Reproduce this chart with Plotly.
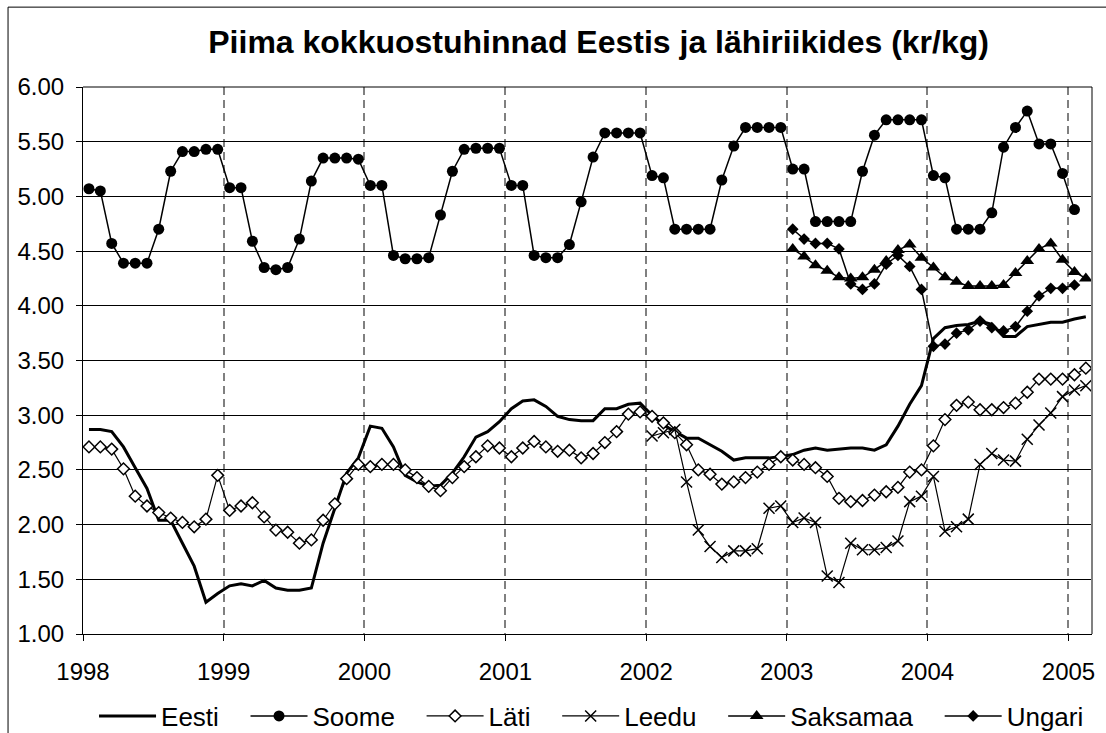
import pandas as pd
import plotly.graph_objects as go

# ---- data (kr/kg), monthly ----
month_starts = pd.date_range("1998-01-01", periods=87, freq="MS")
months = month_starts[:-1] + (month_starts[1:] - month_starts[:-1]) / 2  # Jan 1998 .. Feb 2005

eesti = [2.87, 2.87, 2.85, 2.71, 2.52, 2.33, 2.04, 2.04, 1.83, 1.62, 1.29, 1.37,
         1.44, 1.46, 1.44, 1.49, 1.42, 1.40, 1.40, 1.42, 1.83, 2.16, 2.47, 2.61,
         2.90, 2.88, 2.71, 2.45, 2.39, 2.35, 2.36, 2.47, 2.62, 2.80, 2.85, 2.94,
         3.06, 3.13, 3.14, 3.08, 2.99, 2.96, 2.95, 2.95, 3.06, 3.06, 3.10, 3.11,
         3.00, 2.91, 2.85, 2.79, 2.79, 2.73, 2.67, 2.59, 2.61, 2.61, 2.61, 2.62,
         2.64, 2.68, 2.70, 2.68, 2.69, 2.70, 2.70, 2.68, 2.73, 2.90, 3.10, 3.27,
         3.70, 3.80, 3.82, 3.83, 3.86, 3.83, 3.72, 3.72, 3.81, 3.83, 3.85, 3.85,
         3.88, 3.90]

soome = [5.07, 5.05, 4.57, 4.39, 4.39, 4.39, 4.70, 5.23, 5.41, 5.41, 5.43, 5.43,
         5.08, 5.08, 4.59, 4.35, 4.33, 4.35, 4.61, 5.14, 5.35, 5.35, 5.35, 5.34,
         5.10, 5.10, 4.46, 4.43, 4.43, 4.44, 4.83, 5.23, 5.43, 5.44, 5.44, 5.44,
         5.10, 5.10, 4.46, 4.44, 4.44, 4.56, 4.95, 5.36, 5.58, 5.58, 5.58, 5.58,
         5.19, 5.17, 4.70, 4.70, 4.70, 4.70, 5.15, 5.46, 5.63, 5.63, 5.63, 5.63,
         5.25, 5.25, 4.77, 4.77, 4.77, 4.77, 5.23, 5.56, 5.70, 5.70, 5.70, 5.70,
         5.19, 5.17, 4.70, 4.70, 4.70, 4.85, 5.45, 5.63, 5.78, 5.48, 5.48, 5.21,
         4.88]

lati = [2.71, 2.71, 2.69, 2.51, 2.26, 2.17, 2.11, 2.06, 2.02, 1.98, 2.05, 2.45,
        2.13, 2.17, 2.20, 2.07, 1.95, 1.93, 1.83, 1.86, 2.04, 2.19, 2.42, 2.55,
        2.53, 2.55, 2.55, 2.50, 2.43, 2.35, 2.31, 2.43, 2.53, 2.62, 2.72, 2.70,
        2.62, 2.70, 2.76, 2.71, 2.67, 2.68, 2.61, 2.65, 2.75, 2.85, 3.01, 3.03,
        2.99, 2.93, 2.84, 2.73, 2.50, 2.46, 2.37, 2.39, 2.43, 2.48, 2.55, 2.62,
        2.59, 2.55, 2.52, 2.44, 2.24, 2.21, 2.22, 2.27, 2.30, 2.34, 2.48, 2.50,
        2.72, 2.96, 3.09, 3.12, 3.05, 3.05, 3.07, 3.11, 3.21, 3.33, 3.33, 3.33,
        3.37, 3.43]

leedu_start = 48  # Jan 2002
leedu = [2.81, 2.84, 2.87, 2.39, 1.95, 1.80, 1.70, 1.76, 1.76, 1.78, 2.15, 2.17,
         2.02, 2.06, 2.02, 1.53, 1.47, 1.83, 1.77, 1.77, 1.79, 1.85, 2.21, 2.26,
         2.44, 1.94, 1.98, 2.05, 2.55, 2.65, 2.59, 2.58, 2.78, 2.91, 3.02, 3.17,
         3.23, 3.27]

saksamaa_start = 60  # Jan 2003
saksamaa = [4.52, 4.45, 4.37, 4.32, 4.26, 4.25, 4.26, 4.33, 4.41, 4.51, 4.56, 4.44,
            4.35, 4.26, 4.22, 4.18, 4.18, 4.18, 4.19, 4.30, 4.41, 4.52, 4.57, 4.42,
            4.31, 4.25]

ungari_start = 60  # Jan 2003
ungari = [4.70, 4.61, 4.57, 4.57, 4.52, 4.20, 4.15, 4.20, 4.38, 4.46, 4.36, 4.15,
          3.63, 3.65, 3.75, 3.78, 3.86, 3.80, 3.77, 3.81, 3.95, 4.09, 4.16, 4.16,
          4.19]

series_names = ["Eesti", "Soome", "Läti", "Leedu", "Saksamaa", "Ungari"]
title_text = "Piima kokkuostuhinnad Eestis ja lähiriikides (kr/kg)"

FONT = "Liberation Sans, Arial, sans-serif"
PAD = "\u00a0" * 3  # extra spacing between legend entries


def legend_name(i):
    return series_names[i] + (PAD if i < len(series_names) - 1 else "")


fig = go.Figure()

fig.add_trace(go.Scatter(x=months[:len(eesti)], y=eesti, name=legend_name(0), mode="lines",
                         line=dict(color="black", width=3)))
fig.add_trace(go.Scatter(x=months[:len(soome)], y=soome, name=legend_name(1), mode="lines+markers",
                         line=dict(color="black", width=1.5),
                         marker=dict(symbol="circle", size=11, color="black")))
fig.add_trace(go.Scatter(x=months[:len(lati)], y=lati, name=legend_name(2), mode="lines+markers",
                         line=dict(color="black", width=1.2),
                         marker=dict(symbol="diamond", size=9, color="white",
                                     line=dict(color="black", width=1.5))))
fig.add_trace(go.Scatter(x=months[leedu_start:leedu_start + len(leedu)], y=leedu,
                         name=legend_name(3),
                         mode="lines+markers", line=dict(color="black", width=1.2),
                         marker=dict(symbol="x-thin", size=11, color="black",
                                     line=dict(color="black", width=1.5))))
fig.add_trace(go.Scatter(x=months[saksamaa_start:saksamaa_start + len(saksamaa)], y=saksamaa,
                         name=legend_name(4), mode="lines+markers",
                         line=dict(color="black", width=1.5),
                         marker=dict(symbol="triangle-up", size=12, color="black")))
fig.add_trace(go.Scatter(x=months[ungari_start:ungari_start + len(ungari)], y=ungari,
                         name=legend_name(5), mode="lines+markers",
                         line=dict(color="black", width=1.5),
                         marker=dict(symbol="diamond", size=9, color="black")))

fig.update_layout(
    width=1106, height=733,
    margin=dict(l=83, r=14, t=87, b=99, autoexpand=False),
    paper_bgcolor="white", plot_bgcolor="white",
    font=dict(family=FONT, color="black", size=24),
    title=dict(text="<b>" + title_text + "</b>", x=0.511, xref="paper", xanchor="center",
               y=1 - 42 / 733, yref="container", yanchor="middle",
               font=dict(size=32, family=FONT, color="black")),
    showlegend=True,
    legend=dict(orientation="h", x=0.504, xanchor="center", y=-0.15, yanchor="middle",
                itemwidth=57,
                font=dict(size=26, family=FONT, color="black"), bgcolor="rgba(0,0,0,0)"),
    xaxis=dict(type="date", range=["1998-01-01", "2005-03-03"], dtick="M12",
               tick0="1998-01-01", tickformat="%Y", showgrid=True, gridcolor="#808080",
               griddash="8px,5px", gridwidth=1.5, showline=True, linecolor="black", linewidth=1,
               ticks="outside", ticklen=6, tickcolor="black", zeroline=False,
               tickfont=dict(size=24), ticklabelstandoff=10),
    yaxis=dict(range=[1, 6], dtick=0.5, tick0=1, tickformat=".2f", showgrid=True,
               gridcolor="black", gridwidth=1, showline=True, linecolor="black", linewidth=1,
               ticks="outside", ticklen=6, tickcolor="black", zeroline=False,
               tickfont=dict(size=24), ticklabelstandoff=7),
    shapes=[
        dict(type="line", xref="paper", yref="paper", x0=1, x1=1, y0=0, y1=1,
             line=dict(color="#808080", width=2)),
        dict(type="line", xref="paper", yref="paper", x0=0, x1=1, y0=1, y1=1,
             line=dict(color="black", width=1)),
        dict(type="rect", xref="paper", yref="paper", x0=-0.0743, x1=1.3, y0=-0.4, y1=1.146,
             line=dict(color="black", width=1), fillcolor="rgba(0,0,0,0)", layer="below"),
    ],
)

fig.write_html("out.html", config={"displayModeBar": False},
               post_script="document.body.style.margin='0';")
